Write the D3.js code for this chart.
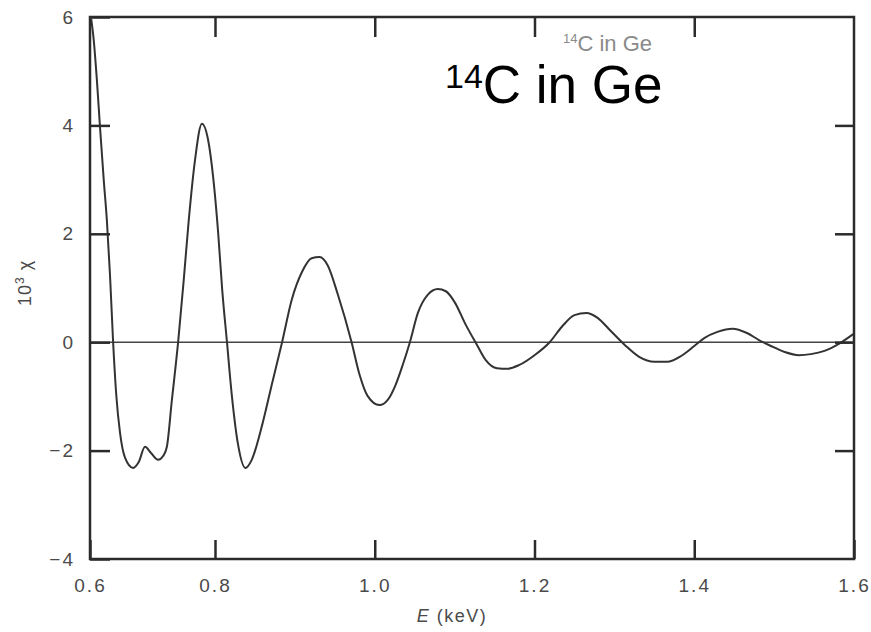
<!DOCTYPE html>
<html>
<head>
<meta charset="utf-8">
<script src="https://cdn.jsdelivr.net/npm/d3@7"></script>
<style>
  body { margin: 0; background: #fff; }
  svg { display: block; font-family: "Liberation Sans", Arial, sans-serif; }
</style>
</head>
<body>
<div class="chart"></div>
<script>
// energy (keV) and 10^3 chi
const energy = [
  0.602, 0.606, 0.611, 0.616, 0.622, 0.627, 0.632, 0.637, 0.642, 0.648, 0.656, 0.669,
  0.678, 0.688, 0.698, 0.709, 0.717, 0.723, 0.731, 0.741, 0.750, 0.758, 0.768, 0.779,
  0.789, 0.797, 0.804, 0.809, 0.815, 0.821, 0.829, 0.838, 0.846, 0.859, 0.871, 0.884,
  0.896, 0.909, 0.921, 0.931, 0.941, 0.954, 0.971, 0.981, 0.991, 1.006, 1.016, 1.026,
  1.035, 1.044, 1.054, 1.066, 1.079, 1.089, 1.100, 1.114, 1.128, 1.139, 1.153, 1.166,
  1.181, 1.200, 1.219, 1.234, 1.250, 1.265, 1.279, 1.294, 1.313, 1.331, 1.350, 1.366,
  1.384, 1.400, 1.413, 1.429, 1.448, 1.466, 1.481, 1.496, 1.513, 1.531, 1.546, 1.563,
  1.581, 1.599
]
const chi = [
  5.96, 5.57, 4.84, 3.97, 2.99, 2.25, 1.24, 0.0, -0.97, -1.67, -2.13, -2.32,
  -2.21, -1.93, -2.05, -2.17, -2.10, -1.93, -1.07, 0.0, 1.15, 2.25, 3.36, 4.03,
  3.73, 3.05, 2.01, 0.97, 0.0, -0.97, -1.90, -2.32, -2.17, -1.53, -0.79, 0.0,
  0.78, 1.30, 1.55, 1.57, 1.42, 0.87, 0.0, -0.60, -0.99, -1.16, -1.07, -0.79,
  -0.42, 0.0, 0.54, 0.87, 0.98, 0.94, 0.74, 0.32, -0.05, -0.33, -0.48, -0.49,
  -0.42, -0.24, 0.0, 0.28, 0.50, 0.54, 0.45, 0.23, -0.05, -0.27, -0.36, -0.36,
  -0.25, -0.07, 0.08, 0.19, 0.25, 0.17, 0.04, -0.07, -0.18, -0.24, -0.22, -0.16,
  -0.03, 0.15
]
const xTicks = [0.6, 0.8, 1.0, 1.2, 1.4, 1.6]
const yTicks = [-4, -2, 0, 2, 4, 6]

const width = 871
const height = 632
const margin = { top: 17, right: 17, bottom: 73, left: 90 }

const svg = d3
  .select(".chart")
  .append("svg")
  .attr("width", width)
  .attr("height", height)

// the scanned axis is stretched a bit on its first interval
const x = d3
  .scaleLinear()
  .domain([0.6, 0.8, 1.6])
  .range([margin.left, 215, width - margin.right])

const y = d3
  .scaleLinear()
  .domain([-4, 6])
  .range([height - margin.bottom, margin.top])

const ink = "#2b2b2b"
const labelColor = "#4a4a4a"

// zero line
svg
  .append("line")
  .attr("x1", x(0.6))
  .attr("x2", x(1.6))
  .attr("y1", y(0))
  .attr("y2", y(0))
  .attr("stroke", "#444")
  .attr("stroke-width", 1.4)

// the curve
const data = energy.map((e, i) => ({ e: e, v: chi[i] }))
const line = d3
  .line()
  .x((d) => x(d.e))
  .y((d) => y(d.v))
  .curve(d3.curveMonotoneX)

svg
  .append("path")
  .datum(data)
  .attr("fill", "none")
  .attr("stroke", "#333")
  .attr("stroke-width", 2)
  .attr("stroke-linejoin", "round")
  .attr("d", line)

// axes with inward ticks
function styleAxis(g) {
  g.select(".domain").remove()
  g.selectAll(".tick line").attr("stroke", ink).attr("stroke-width", 2.5)
  g.selectAll(".tick text")
    .attr("fill", labelColor)
    .attr("font-size", "19px")
    .attr("letter-spacing", "2px")
}

svg
  .append("g")
  .attr("transform", `translate(0, ${y(-4)})`)
  .call(d3.axisBottom(x).tickValues(xTicks).tickFormat(d3.format(".1f")).tickSizeInner(-19).tickSizeOuter(0).tickPadding(20))
  .call(styleAxis)

svg
  .append("g")
  .attr("transform", `translate(0, ${y(6)})`)
  .call(d3.axisTop(x).tickValues(xTicks.slice(1, -1)).tickFormat("").tickSizeInner(-20).tickSizeOuter(0))
  .call(styleAxis)

svg
  .append("g")
  .attr("transform", `translate(${x(0.6)}, 0)`)
  .call(d3.axisLeft(y).tickValues(yTicks).tickFormat(d3.format("d")).tickSizeInner(-20).tickSizeOuter(0).tickPadding(15))
  .call(styleAxis)

svg
  .append("g")
  .attr("transform", `translate(${x(1.6)}, 0)`)
  .call(d3.axisRight(y).tickValues(yTicks.slice(1, -1)).tickFormat("").tickSizeInner(-19).tickSizeOuter(0))
  .call(styleAxis)

// frame
svg
  .append("rect")
  .attr("x", x(0.6))
  .attr("y", y(6))
  .attr("width", x(1.6) - x(0.6))
  .attr("height", y(-4) - y(6))
  .attr("fill", "none")
  .attr("stroke", ink)
  .attr("stroke-width", 2.5)

// axis titles
const xTitle = svg
  .append("text")
  .attr("x", 452)
  .attr("y", 622)
  .attr("text-anchor", "middle")
  .attr("fill", labelColor)
  .attr("font-size", "18px")
  .attr("letter-spacing", "1.5px")
xTitle.append("tspan").attr("font-style", "italic").text("E")
xTitle.append("tspan").text(" (keV)")

const yTitle = svg
  .append("text")
  .attr("transform", "translate(31, 283) rotate(-90)")
  .attr("text-anchor", "middle")
  .attr("fill", labelColor)
  .attr("font-size", "18px")
  .attr("letter-spacing", "1px")
yTitle.append("tspan").text("10")
yTitle.append("tspan").attr("font-size", "12px").attr("dy", -7).text("3")
yTitle.append("tspan").attr("dy", 7).text(" χ")

// small grey caption from the scan
const small = svg
  .append("text")
  .attr("x", 563)
  .attr("y", 51)
  .attr("fill", "#8a8a8a")
  .attr("font-size", "22px")
small.append("tspan").attr("font-size", "13px").attr("dy", -8).text("14")
small.append("tspan").attr("dy", 8).text("C in Ge")

// big overlaid caption
const big = svg
  .append("text")
  .attr("x", 445)
  .attr("y", 103)
  .attr("fill", "#000")
  .attr("font-size", "53px")
big.append("tspan").attr("font-size", "34px").attr("dy", -15).text("14")
big.append("tspan").attr("dy", 15).text("C in Ge")
</script>
</body>
</html>
